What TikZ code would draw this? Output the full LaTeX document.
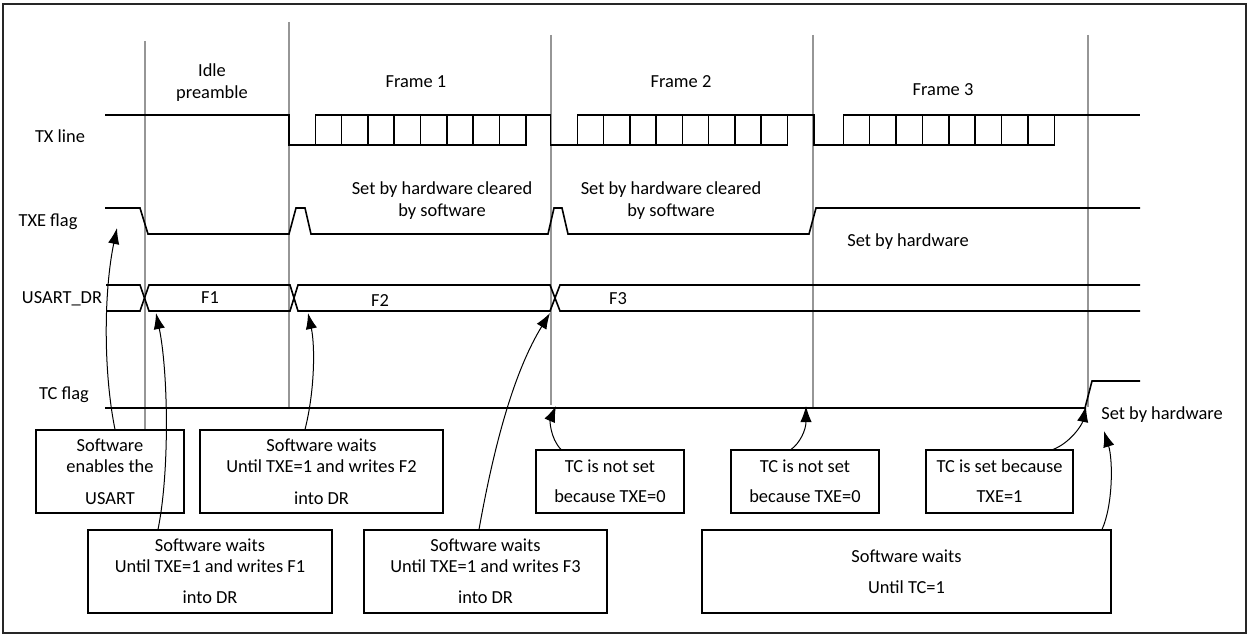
\documentclass[tikz,border=0pt]{standalone}
\usepackage{fontspec}
\setmainfont{Carlito}
\usetikzlibrary{arrows.meta,calc}
\definecolor{gridgray}{RGB}{150,150,150}
\begin{document}
\begin{tikzpicture}[x=0.75pt,y=-0.75pt,
  sig/.style={line width=1.2pt, line join=miter},
  vgrid/.style={draw=gridgray, line width=1.1pt},
  note/.style={draw, line width=0.8pt, align=center, inner sep=0pt,
    font=\fontsize{13.8}{15.75}\selectfont},
  lbl/.style={font=\fontsize{13.8}{16.5}\selectfont, inner sep=0pt, align=center},
  arr/.style={-{Latex[length=12pt,width=8.5pt]}, line width=0.75pt}]
\useasboundingbox (0,0) rectangle (1249,635);
\draw[line width=1.5pt, black!85] (3,4) rectangle (1246,633);

% vertical time markers
\draw[vgrid] (145,41) -- (145,430);
\draw[vgrid] (289,22) -- (289,407);
\draw[vgrid] (551,35) -- (551,405);
\draw[vgrid] (813,35) -- (813,407);
\draw[vgrid] (1088,35) -- (1088,407);

% signal labels
\node[lbl] (lblTX)  at (60,136) {TX line};
\node[lbl] (lblTXE) at (48,222) {TXE flag};
\node[lbl] (lblDR)  at (62,299) {USART\_DR};
\node[lbl] (lblTC)  at (64,395) {TC flag};

% frame labels
\node[lbl] (idle) at (212,83) {Idle\\preamble};
\node[lbl] (fr1) at (416,82) {Frame 1};
\node[lbl] (fr2) at (681,82) {Frame 2};
\node[lbl] (fr3) at (943,90) {Frame 3};

% TX line
\draw[sig] (105,115) -- (289,115) -- (289,145) -- (315.3,145) -- (526,145)
  -- (526,115) -- (550.5,115) -- (550.5,145) -- (577.3,145) -- (787.3,145)
  -- (787.3,115) -- (814,115) -- (814,145) -- (843.3,145) -- (1054.3,145)
  -- (1054.3,115) -- (1140,115);
\foreach \s/\w in {315.3/26.33, 577.3/26.25, 843.3/26.38} {
  \draw[sig] (\s,115) -- ({\s+8*\w},115);
  \foreach \k in {0,...,7} \draw[sig] ({\s+\k*\w},115) -- ({\s+\k*\w},145);
}

% TXE flag
\draw[sig] (105,208) -- (140,208) -- (148,234) -- (289,234) -- (296,208)
  -- (305,208) -- (311,234) -- (548,234) -- (554,208) -- (562,208)
  -- (568,234) -- (809,234) -- (816,208) -- (1140,208);
\node[lbl] (sbh1) at (442,201) {Set by hardware cleared\\by software};
\node[lbl] (sbh2) at (671,201) {Set by hardware cleared\\by software};
\node[lbl] (sbh3) at (908,242) {Set by hardware};

% USART_DR
\draw[sig] (106,285) -- (140,285) -- (149,311) -- (290,311) -- (298,285)
  -- (550,285) -- (560,311) -- (1140,311);
\draw[sig] (106,311) -- (140,311) -- (149,285) -- (290,285) -- (298,311)
  -- (550,311) -- (560,285) -- (1140,285);
\node[lbl] (f1) at (210,298) {F1};
\node[lbl] (f2) at (380,301) {F2};
\node[lbl] (f3) at (618,299) {F3};

% TC flag
\draw[sig] (105,408) -- (1085,408) -- (1092,381) -- (1140,381);
\node[lbl] (sbhtc) at (1162,415) {Set by hardware};

% boxes
\node[note, minimum width=111pt, minimum height=62.25pt] (A) at (110,471.5)
  {Software\\enables the\\[8.25pt]USART};
\node[note, minimum width=182.25pt, minimum height=62.25pt] (B) at (321.5,471.5)
  {Software waits\\Until TXE=1 and writes F2\\[8.25pt]into DR};
\node[note, minimum width=183pt, minimum height=62.25pt] (C) at (210,571.5)
  {Software waits\\Until TXE=1 and writes F1\\[7.5pt]into DR};
\node[note, minimum width=182.25pt, minimum height=62.25pt] (D) at (485.5,571.5)
  {Software waits\\Until TXE=1 and writes F3\\[7.5pt]into DR};
\node[note, minimum width=111pt, minimum height=47.25pt] (E) at (610,481.5)
  {TC is not set\\[6.75pt]because TXE=0};
\node[note, minimum width=111pt, minimum height=47.25pt] (F) at (805,481.5)
  {TC is not set\\[6.75pt]because TXE=0};
\node[note, minimum width=110.25pt, minimum height=47.25pt] (G) at (999.5,481.5)
  {TC is set because\\[6.75pt]TXE=1};
\node[note, minimum width=306.75pt, minimum height=62.25pt] (H) at (906.5,571.5)
  {Software waits\\[7.5pt]Until TC=1};

% arrow targets
\coordinate (tA) at (117,228);
\coordinate (tC) at (156,313);
\coordinate (tB) at (308,313);
\coordinate (tD) at (550,313);
\coordinate (tE) at (556,406);
\coordinate (tF) at (806,406);
\coordinate (tG) at (1086,406);
\coordinate (tH) at (1104,431);

% connectors
\draw[arr] ($(A.north)+(5,0)$) .. controls (103,370) and (104,290) .. (tA);
\draw[arr] ($(C.north)+(-52,0)$) .. controls (170,470) and (168,370) .. (tC);
\draw[arr] ($(B.north)+(-16.5,0)$) .. controls (315,390) and (315,345) .. (tB);
\draw[arr] ($(D.north)+(-6.5,0)$) .. controls (495,440) and (515,370) .. (tD);
\draw[arr] ($(E.north)+(-49,0)$) .. controls (550,438) and (550,420) .. (tE);
\draw[arr] ($(F.north)+(-14,0)$) .. controls (800,443) and (806,430) .. (tF);
\draw[arr] ($(G.north)+(53.5,0)$) .. controls (1070,443) and (1082,425) .. (tG);
\draw[arr] ($(H.north)+(195.5,0)$) .. controls (1113,505) and (1113,460) .. (tH);
\end{tikzpicture}
\end{document}
